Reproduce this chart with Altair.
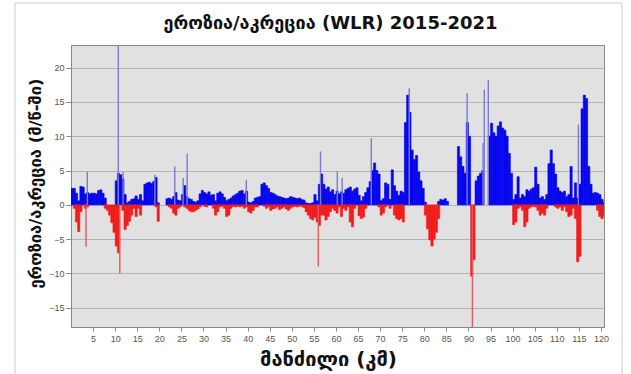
import altair as alt
import pandas as pd

TITLE = "ეროზია/აკრეცია (WLR) 2015-2021"
Y_TITLE = "ეროზია/აკრეცია (მ/წ-ში)"
X_TITLE = "მანძილი (კმ)"

STEP = 0.5  # km per bin

# accretion (positive) values, one per 0.5 km bin starting at km 0
POS = [
    2.4, 2.4, 1.7, 0.6, 2.7, 2.6, 1.6, 1.8, 1.6, 1.7,
    1.7, 1.6, 2.1, 2.2, 1.7, 1.0, 0, 0, 0, 0,
    3.5, 4.6, 4.4, 3.8, 1.5, 0.3, 0.5, 0.8, 0.9, 1.3,
    0.8, 1.5, 0.6, 3.0, 3.2, 3.3, 3.1, 3.4, 4.0, 0.3,
    0, 0, 0, 0.9, 1.0, 0.8, 1.2, 1.8, 0.7, 0.6,
    1.5, 2.8, 1.2, 0.9, 0.8, 0.5, 0.4, 0.6, 1.6, 2.1,
    1.8, 1.6, 1.9, 1.4, 1.5, 0.6, 1.7, 1.9, 1.6, 1.1,
    0.6, 0.8, 1.0, 1.3, 1.5, 1.7, 2.0, 2.1, 1.6, 2.0,
    0.4, 0.3, 0.5, 1.0, 1.1, 1.2, 3.0, 3.2, 2.8, 2.4,
    1.8, 1.7, 1.5, 1.3, 1.2, 1.1, 1.0, 0.9, 1.0, 1.2,
    1.1, 1.0, 0.9, 1.0, 0.8, 0.7, 0.3, 0.2, 0.2, 0.3,
    1.5, 0.6, 3.0, 4.5, 3.0, 2.3, 2.6, 1.9, 2.2, 1.5,
    2.0, 1.6, 1.9, 1.7, 2.2, 2.4, 2.6, 2.0, 2.3, 2.5,
    1.4, 0.6, 1.2, 1.8, 2.5, 3.4, 5.0, 6.1, 5.0, 4.5,
    0.6, 0.9, 3.2, 3.0, 0.8, 5.1, 2.8, 2.0, 1.4, 2.0,
    1.8, 12.0, 16.0, 13.5, 8.0, 6.6, 7.2, 4.8, 3.5, 2.4,
    0.4, 0, 0, 0, 0, 0, 0.5, 0.8, 0.7, 0.9,
    0.5, 0, 0, 0, 0, 8.5, 7.0, 5.6, 4.6, 12.0,
    10.0, 0, 0, 3.5, 4.2, 4.6, 5.0, 0, 0, 10.0,
    11.9, 10.5, 10.0, 11.5, 12.1, 11.2, 10.9, 10.0, 7.5, 4.6,
    0.8, 1.5, 4.1, 1.0, 1.5, 1.2, 2.2, 2.0, 2.3, 2.5,
    5.5, 3.0, 1.0, 1.2, 0.8, 1.5, 6.0, 8.0, 6.0, 4.5,
    2.5, 2.0, 1.8, 2.0, 1.2, 1.5, 5.6, 1.0, 3.2, 1.0,
    3.0, 14.0, 16.0, 15.5, 5.6, 3.0, 1.7, 1.8, 1.7, 1.5,
    0.8, 0.3,
]

# erosion (negative) values, same bins
NEG = [
    0, -0.5, -2.5, -3.9, -1.0, 0, -0.5, -0.3, 0, 0,
    0, 0, 0, 0, 0, -0.5, -0.8, -1.5, -2.6, -4.0,
    -6.0, -7.0, 0, -0.8, -3.6, -3.0, -2.4, -1.5, -0.5, -1.7,
    -0.5, -1.5, 0, 0, 0, 0, 0, 0, -0.3, -2.4,
    0, 0, 0, 0, -0.3, -0.5, -1.2, -1.5, -0.5, -0.3,
    0, -0.3, -0.5, -0.8, -1.0, -1.0, -0.8, -0.6, -0.3, 0,
    -0.2, -0.3, 0, 0, -0.5, -1.5, -1.0, -0.3, -0.2, -0.5,
    -1.7, -1.5, -0.5, -0.2, -0.3, -0.2, -0.3, -0.2, -0.5, -0.3,
    -1.0, -1.2, -0.8, -0.3, -0.3, 0, 0, -0.2, -0.5, -0.3,
    -0.8, -0.6, -0.5, -0.3, -0.7, -0.5, -0.3, -0.6, -0.8, -0.5,
    -0.3, -0.2, -0.3, -0.2, -0.2, -0.4, -1.0, -1.5, -2.0, -2.2,
    -1.8, -2.5, -3.0, -1.5, -1.5, -2.2, -1.7, -1.0, -0.5, -0.8,
    -1.2, -0.3, -1.7, -0.5, -0.8, -0.3, -2.5, -3.2, -0.5, 0,
    -1.6, -2.0, -1.8, -0.5, 0, 0, 0, 0, 0, -0.3,
    -1.5, -1.2, -0.3, 0, -0.5, 0, -1.5, -2.0, -2.2, -2.0,
    -2.5, 0, 0, 0, 0, 0, 0, 0, 0, 0,
    -1.5, -3.5, -5.1, -6.0, -5.0, -4.0, -2.0, 0, 0, 0,
    0, 0, 0, 0, 0, 0, 0, 0, 0, 0,
    0, -10.4, -8.0, 0, 0, 0, 0, 0, 0, 0,
    0, 0, 0, 0, 0, 0, 0, 0, 0, 0,
    -2.9, -2.5, -0.5, -0.3, -0.8, -3.2, -2.5, -0.5, -0.3, -0.2,
    -0.3, -0.8, -1.5, -1.2, -1.5, -0.5, 0, 0, 0, -0.3,
    -0.5, -0.3, -0.8, -0.3, -1.0, -1.7, -1.5, -0.5, -2.0, -8.3,
    -7.5, 0, 0, 0, 0, 0, 0, 0, -0.8, -1.7,
    -2.0, -1.5,
]

# thin isolated spikes
SPIKE_POS_KM = [3.7, 10.7, 11.8, 19.0, 23.5, 25.4, 26.3, 39.7, 56.5, 60.3,
                61.4, 68.0, 76.6, 89.7, 93.3, 93.6, 94.5, 114.9]
SPIKE_POS_VAL = [4.8, 24.0, 4.8, 4.4, 5.6, 3.9, 7.5, 3.6, 7.8, 4.9,
                 3.9, 9.7, 17.0, 16.3, 9.0, 16.8, 18.2, 11.7]
SPIKE_NEG_KM = [3.4, 11.05, 56.0, 90.9]
SPIKE_NEG_VAL = [-6.1, -10.0, -9.0, -18.0]

X_TICKS = list(range(5, 121, 5))
Y_TICKS = [-15, -10, -5, 0, 5, 10, 15, 20]

FONT = "DejaVu Sans"

def bins(vals):
    rows = [{"x": i * STEP, "x2": i * STEP + STEP, "v": v} for i, v in enumerate(vals) if v != 0]
    return pd.DataFrame(rows)

xscale = alt.Scale(domain=[0, 120.7], nice=False, zero=False)
yscale = alt.Scale(domain=[-17.8, 23.3], nice=False)

xaxis = alt.Axis(values=X_TICKS, grid=False, labelFontSize=9, labelColor="#555555",
                 labelFont="Liberation Sans", tickColor="#888888", tickSize=4,
                 domainColor="#888888", labelPadding=3, labelOverlap=False,
                 title=X_TITLE, titleFont=FONT, titleFontSize=20, titleFontWeight="bold",
                 titleColor="#111111", titleY=38, titleBaseline="alphabetic", titleX=257)
yaxis = alt.Axis(values=Y_TICKS, grid=True, gridColor="#b3b3b3", gridWidth=1,
                 labelFontSize=9, labelColor="#555555", labelFont="Liberation Sans",
                 tickColor="#888888", tickSize=5, domainColor="#888888", labelPadding=2,
                 title=Y_TITLE, titleFont=FONT, titleFontSize=16.5, titleFontWeight="bold",
                 titleColor="#111111", titleAngle=-90, titleX=-36, titleY=138,
                 titleAlign="center", titleBaseline="middle")

BLUE = "#0505ee"
RED = "#f01c1c"

base_pos = alt.Chart(bins(POS)).mark_bar(color=BLUE, stroke=BLUE, strokeWidth=0.6, clip=True).encode(
    x=alt.X("x:Q", scale=xscale, axis=xaxis),
    x2="x2:Q",
    y=alt.Y("v:Q", scale=yscale, axis=yaxis),
    y2=alt.datum(0),
)
base_neg = alt.Chart(bins(NEG)).mark_bar(color=RED, stroke=RED, strokeWidth=0.6, clip=True).encode(
    x=alt.X("x:Q", scale=xscale, axis=xaxis),
    x2="x2:Q",
    y=alt.Y("v:Q", scale=yscale, axis=yaxis),
    y2=alt.datum(0),
)
spk_pos = alt.Chart(pd.DataFrame({"x": SPIKE_POS_KM, "v": SPIKE_POS_VAL})).mark_rule(
    color="#7a7ad6", strokeWidth=1.4, clip=True).encode(
    x=alt.X("x:Q", scale=xscale, axis=xaxis), y=alt.Y("v:Q", scale=yscale, axis=yaxis),
    y2=alt.datum(0))
spk_neg = alt.Chart(pd.DataFrame({"x": SPIKE_NEG_KM, "v": SPIKE_NEG_VAL})).mark_rule(
    color="#e65a5a", strokeWidth=1.4, clip=True).encode(
    x=alt.X("x:Q", scale=xscale, axis=xaxis), y=alt.Y("v:Q", scale=yscale, axis=yaxis),
    y2=alt.datum(0))

frame_color = "#cccccc"
frame_l = alt.Chart().mark_rule(color=frame_color).encode(
    x=alt.value(-56), y=alt.value(-42), y2=alt.value(329))
frame_t = alt.Chart().mark_rule(color=frame_color).encode(
    x=alt.value(-56), x2=alt.value(551), y=alt.value(-42))
frame_r = alt.Chart().mark_rule(color=frame_color).encode(
    x=alt.value(551), y=alt.value(-42), y2=alt.value(329))

chart = alt.layer(base_pos, base_neg, spk_pos, spk_neg, frame_l, frame_t, frame_r).properties(
    width=533, height=282,
    title=alt.TitleParams(TITLE, font=FONT, fontSize=18, fontWeight="bold", color="#111111",
                          anchor="middle", frame="group", offset=-30, dx=-7),
    autosize=alt.AutoSizeParams(type="none"),
    padding={"left": 71, "top": 45, "right": 27, "bottom": 47},
    background="white",
).configure_view(fill="#e1e1e1", stroke="#8a8a8a").configure_axisX(labelOverlap=False)

chart.save("out.html", embed_options={"renderer": "svg", "actions": False})
